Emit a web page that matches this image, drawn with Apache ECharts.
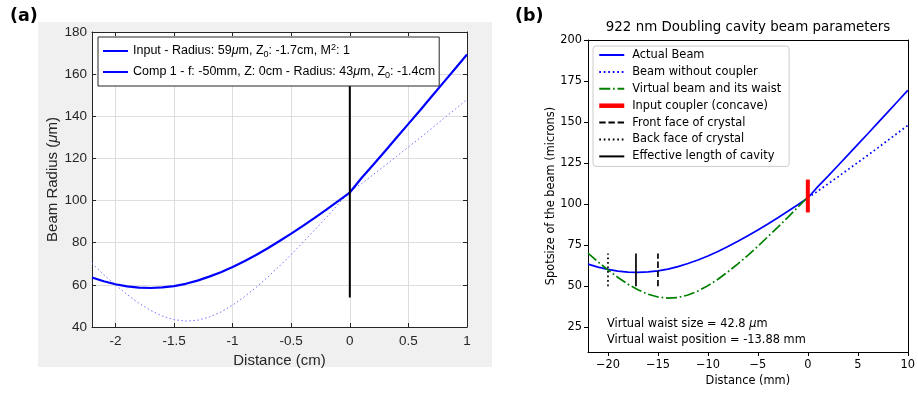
<!DOCTYPE html>
<html><head><meta charset="utf-8">
<script src="https://cdn.jsdelivr.net/npm/echarts@6/dist/echarts.min.js"></script>
<style>html,body{margin:0;padding:0;background:#fff}#c{width:918px;height:393px}</style>
</head><body><div id="c"></div>
<script>
// ---- data ----
const distCm = [-2.2,-2.1,-2.0,-1.9,-1.8,-1.7,-1.6,-1.5,-1.4,-1.3,-1.2,-1.1,-1.0,-0.9,-0.8,-0.7,-0.6,-0.5,-0.4,-0.3,-0.2,-0.1,0.0,0.1,0.2,0.3,0.4,0.5,0.6,0.7,0.8,0.9,1.0];
const distMm = [-22,-21,-20,-19,-18,-17,-16,-15,-14,-13,-12,-11,-10,-9,-8,-7,-6,-5,-4,-3,-2,-1,0,1,2,3,4,5,6,7,8,9,10];
// actual beam, from the left edge up to the coupler (distance -2.2 .. 0 cm)
const actualBeam = [63.5,61.7,60.3,59.3,58.7,58.5,58.8,59.4,60.5,62.0,63.9,66.0,68.5,71.2,74.2,77.4,80.8,84.3,88.0,91.8,95.7,99.7,103.8];
// virtual beam (whole range -2.2 .. 1 cm)
const virtualBeam = [70.2,64.9,60.0,55.4,51.3,47.9,45.2,43.5,42.8,43.2,44.7,47.1,50.4,54.3,58.8,63.7,68.9,74.4,80.2,86.0,92.0,98.2,104.4,110.7,117.0,123.4,129.9,136.4,142.9,149.5,156.1,162.7,169.3];
// beam without coupler (0 .. 1 cm)
const beamNoCoupler = [103.8,108.0,112.3,116.6,121.0,125.4,129.8,134.3,138.9,143.4,148.0];

const xTicksCm = [-2,-1.5,-1,-0.5,0,0.5,1];
const xTicksMm = [-20,-15,-10,-5,0,5,10];
const yTicksRight = [25,50,75,100,125,150,175,200];

const lensLine = [[0,54],[0,160]];
const couplerLine = [[0,95],[0,115]];
const frontFace = [[-15,50],[-15,70]];
const backFace = [[-20,50],[-20,70]];
const effLength = [[-17.2,50],[-17.2,70]];

const legendLeftNames = ['Input','Comp 1'];
const legendLeftText = {
  'Input': 'Input - Radius: 59{it|μ}m, Z{sub|0}: -1.7cm, M{sup|2}: 1',
  'Comp 1': 'Comp 1 - f: -50mm, Z: 0cm - Radius: 43{it|μ}m, Z{sub|0}: -1.4cm'
};
const legendRightNames = ['Actual Beam','Beam without coupler','Virtual beam and its waist','Input coupler (concave)','Front face of crystal','Back face of crystal','Effective length of cavity'];

// ---- build series data ----
const nNeg = actualBeam.length; // points up to 0
const leftSolid = [], leftDotted = [], rightActual = [], rightVirtual = [], rightNoCoupler = [];
for (let i = 0; i < distCm.length; i++) {
  if (i < nNeg) {
    leftSolid.push([distCm[i], actualBeam[i]]);
    leftDotted.push([distCm[i], virtualBeam[i]]);
    rightActual.push([distMm[i], actualBeam[i]]);
    rightVirtual.push([distMm[i], virtualBeam[i]]);
  } else {
    leftSolid.push([distCm[i], virtualBeam[i]]);
    rightActual.push([distMm[i], virtualBeam[i]]);
  }
}
for (let j = 0; j < beamNoCoupler.length; j++) {
  const i = nNeg - 1 + j;
  leftDotted.push([distCm[i], beamNoCoupler[j]]);
  rightNoCoupler.push([distMm[i], beamNoCoupler[j]]);
}

const LF = 'Liberation Sans, Arial, Helvetica, sans-serif';
const RF = 'DejaVu Sans, sans-serif';
const LC = '#262626';
const fmtCm = v => String(Math.round(v*10)/10);
const fmtMm = v => (v < 0 ? '\u2212' + Math.abs(v) : String(v));

const chart = echarts.init(document.getElementById('c'), null, {renderer:'canvas'});
const option = {
  animation: false,
  backgroundColor: '#ffffff',
  grid: [
    {left: 92, top: 32, width: 375, height: 295, show: true, backgroundColor: '#ffffff', borderWidth: 0},
    {left: 588, top: 40, width: 320, height: 312, show: false}
  ],
  xAxis: [
    {gridIndex:0, type:'value', position:'bottom', min:-2.2, max:1,
     axisLine:{show:true, onZero:false, lineStyle:{color:LC, width:1}},
     axisTick:{show:true, inside:true, length:4, customValues:xTicksCm, lineStyle:{color:LC}},
     axisLabel:{customValues:xTicksCm, formatter:fmtCm, color:LC, fontFamily:LF, fontSize:13.5, margin:7},
     splitLine:{show:true, lineStyle:{color:'#dedede', width:1}},
     name:'Distance (cm)', nameLocation:'middle', nameGap:24,
     nameTextStyle:{color:LC, fontFamily:LF, fontSize:15}},
    {gridIndex:0, type:'value', position:'top', min:-2.2, max:1,
     axisLine:{show:true, onZero:false, lineStyle:{color:LC, width:1}},
     axisTick:{show:true, inside:true, length:4, customValues:xTicksCm, lineStyle:{color:LC}},
     axisLabel:{show:false}, splitLine:{show:false}},
    {gridIndex:1, type:'value', position:'bottom', min:-22, max:10,
     axisLine:{show:true, onZero:false, lineStyle:{color:'#000', width:1}},
     axisTick:{show:true, inside:false, length:4, customValues:xTicksMm, lineStyle:{color:'#000'}},
     axisLabel:{customValues:xTicksMm, formatter:fmtMm, color:'#000', fontFamily:RF, fontSize:11.4, margin:8},
     splitLine:{show:false},
     name:'Distance (mm)', nameLocation:'middle', nameGap:24,
     nameTextStyle:{color:'#000', fontFamily:RF, fontSize:11.4}},
    {gridIndex:1, type:'value', position:'top', min:-22, max:10,
     axisLine:{show:true, onZero:false, lineStyle:{color:'#000', width:1}},
     axisTick:{show:false}, axisLabel:{show:false}, splitLine:{show:false}}
  ],
  yAxis: [
    {gridIndex:0, type:'value', position:'left', min:40, max:180, interval:20,
     axisLine:{show:true, onZero:false, lineStyle:{color:LC, width:1}},
     axisTick:{show:true, inside:true, length:4, lineStyle:{color:LC}},
     axisLabel:{color:LC, fontFamily:LF, fontSize:13.5, margin:5},
     splitLine:{show:true, lineStyle:{color:'#dedede', width:1}},
     name:'Beam Radius ({it|μ}m)', nameLocation:'middle', nameGap:27,
     nameTextStyle:{color:LC, fontFamily:LF, fontSize:15, rich:{it:{fontStyle:'italic', fontFamily:LF, fontSize:15, color:LC}}}},
    {gridIndex:0, type:'value', position:'right', min:40, max:180, interval:20,
     axisLine:{show:true, onZero:false, lineStyle:{color:LC, width:1}},
     axisTick:{show:true, inside:true, length:4, lineStyle:{color:LC}},
     axisLabel:{show:false}, splitLine:{show:false}},
    {gridIndex:1, type:'value', position:'left', min:10, max:200,
     axisLine:{show:true, onZero:false, lineStyle:{color:'#000', width:1}},
     axisTick:{show:true, inside:false, length:4, customValues:yTicksRight, lineStyle:{color:'#000'}},
     axisLabel:{customValues:yTicksRight, color:'#000', fontFamily:RF, fontSize:11.4, margin:6},
     splitLine:{show:false},
     name:'Spotsize of the beam (microns)', nameLocation:'middle', nameGap:30,
     nameTextStyle:{color:'#000', fontFamily:RF, fontSize:11.4}},
    {gridIndex:1, type:'value', position:'right', min:10, max:200,
     axisLine:{show:true, onZero:false, lineStyle:{color:'#000', width:1}},
     axisTick:{show:false}, axisLabel:{show:false}, splitLine:{show:false}}
  ],
  legend: [
    {data: legendLeftNames.map(n => ({name:n, lineStyle:{type:'solid', color:'#0000ff', width:2}})),
     orient:'vertical', left:98, top:37, itemWidth:25, itemHeight:16, itemGap:5, z:10,
     padding:[6,4,6,4], backgroundColor:'#ffffff', borderColor:LC, borderWidth:1, borderRadius:0,
     selectedMode:false, itemStyle:{opacity:0},
     formatter: n => legendLeftText[n],
     textStyle:{color:'#000', fontFamily:LF, fontSize:12.5, lineHeight:16,
       rich:{
         it:{fontStyle:'italic', fontFamily:LF, fontSize:12.5, lineHeight:16, color:'#000'},
         sub:{fontFamily:LF, fontSize:9, lineHeight:9, color:'#000', verticalAlign:'bottom'},
         sup:{fontFamily:LF, fontSize:9, lineHeight:9, color:'#000', verticalAlign:'top'}
       }}},
    {data: legendRightNames.map(n => n === 'Input coupler (concave)'
        ? {name:n, lineStyle:{width:4.5, color:'#ff0000', type:'solid'}}
        : {name:n}),
     orient:'vertical', left:593, top:46, itemWidth:25, itemHeight:14, itemGap:2.9, z:10,
     padding:[2,8,3,4], backgroundColor:'rgba(255,255,255,0.8)', borderColor:'#cccccc', borderWidth:1, borderRadius:3,
     selectedMode:false, itemStyle:{opacity:0},
     textStyle:{color:'#000', fontFamily:RF, fontSize:11.4, lineHeight:14, padding:[0,0,0,3]}}
  ],
  graphic: [
    {type:'rect', shape:{x:38, y:22, width:454, height:345}, style:{fill:'#f0f0f0'}, z:-100, silent:true},
    {type:'text', x:10, y:16, style:{text:'(a)', fontFamily:'DejaVu Sans, sans-serif', fontWeight:'bold', fontSize:17.5, fill:'#000', verticalAlign:'middle', align:'left'}},
    {type:'text', x:515, y:16, style:{text:'(b)', fontFamily:'DejaVu Sans, sans-serif', fontWeight:'bold', fontSize:17.5, fill:'#000', verticalAlign:'middle', align:'left'}},
    {type:'text', x:748, y:28, style:{text:'922 nm Doubling cavity beam parameters', fontFamily:RF, fontSize:13.4, fill:'#000', align:'center', verticalAlign:'middle'}},
    {type:'text', x:607, y:324, style:{text:'Virtual waist size = 42.8 {it|μ}m', fontFamily:RF, fontSize:11.4, fill:'#000', align:'left', verticalAlign:'middle',
       rich:{it:{fontStyle:'italic', fontFamily:RF, fontSize:11.4, fill:'#000'}}}},
    {type:'text', x:607, y:340, style:{text:'Virtual waist position = -13.88 mm', fontFamily:RF, fontSize:11.4, fill:'#000', align:'left', verticalAlign:'middle'}}
  ],
  series: [
    {name:'Comp 1', type:'line', xAxisIndex:0, yAxisIndex:0, data:leftDotted, showSymbol:false, symbol:'none',
     lineStyle:{color:'#6f6fff', width:1, type:[1.5,2.5]}, itemStyle:{color:'#0000ff'}, z:2},
    {name:'Input', type:'line', xAxisIndex:0, yAxisIndex:0, data:leftSolid, showSymbol:false, symbol:'none',
     lineStyle:{color:'#0000ff', width:2.2}, itemStyle:{color:'#0000ff'}, z:2},
    {name:'lens', type:'line', xAxisIndex:0, yAxisIndex:0, data:lensLine, showSymbol:false, symbol:'none',
     lineStyle:{color:'#000', width:2}, z:2},

    {name:'Actual Beam', type:'line', xAxisIndex:2, yAxisIndex:2, data:rightActual, showSymbol:false, symbol:'none',
     lineStyle:{color:'#0000ff', width:1.7}, itemStyle:{color:'#0000ff'}},
    {name:'Beam without coupler', type:'line', xAxisIndex:2, yAxisIndex:2, data:rightNoCoupler, showSymbol:false, symbol:'none',
     lineStyle:{color:'#0000ff', width:1.7, type:[1.7,2.8]}, itemStyle:{color:'#0000ff'}},
    {name:'Virtual beam and its waist', type:'line', xAxisIndex:2, yAxisIndex:2, data:rightVirtual, showSymbol:false, symbol:'none',
     lineStyle:{color:'#008000', width:1.7, type:[11,2.8,1.7,2.8]}, itemStyle:{color:'#008000'}},
    {name:'Input coupler (concave)', type:'line', xAxisIndex:2, yAxisIndex:2, data:couplerLine, showSymbol:false, symbol:'none',
     lineStyle:{color:'#ff0000', width:4}, itemStyle:{color:'#ff0000'}},
    {name:'Front face of crystal', type:'line', xAxisIndex:2, yAxisIndex:2, data:frontFace, showSymbol:false, symbol:'none',
     lineStyle:{color:'#000', width:1.7, type:[6.4,2.8]}, itemStyle:{color:'#000'}},
    {name:'Back face of crystal', type:'line', xAxisIndex:2, yAxisIndex:2, data:backFace, showSymbol:false, symbol:'none',
     lineStyle:{color:'#000', width:1.7, type:[1.7,2.8]}, itemStyle:{color:'#000'}},
    {name:'Effective length of cavity', type:'line', xAxisIndex:2, yAxisIndex:2, data:effLength, showSymbol:false, symbol:'none',
     lineStyle:{color:'#000', width:1.7}, itemStyle:{color:'#000'}}
  ]
};
chart.setOption(option);
</script>
</body></html>
